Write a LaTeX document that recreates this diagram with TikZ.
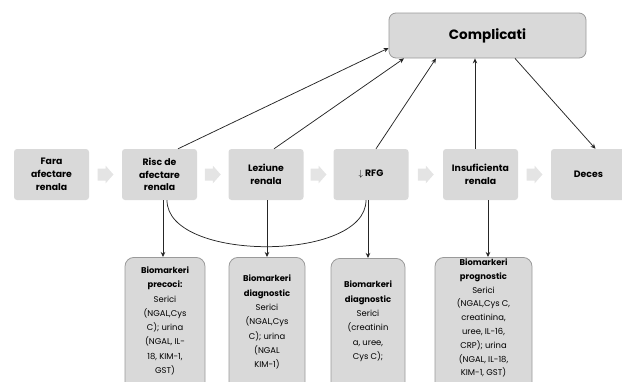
\documentclass[tikz,border=0pt]{standalone}
\usepackage{fontspec}
\setmainfont{Poppins}
\usetikzlibrary{arrows.meta,calc}
\definecolor{boxgray}{HTML}{D9D9D9}
\definecolor{edgegray}{HTML}{9A9A9A}
\definecolor{blockgray}{HTML}{E4E4E4}
\begin{document}
\begin{tikzpicture}[x=1pt,y=-1pt,
  stage/.style={fill=boxgray, rounded corners=3pt, minimum width=75pt, minimum height=51pt,
    align=center, inner sep=1pt, font=\fontsize{9.3}{12.8}\selectfont\bfseries},
  topbox/.style={fill=boxgray, draw=edgegray, line width=0.8pt, rounded corners=7pt,
    minimum width=197pt, minimum height=45pt, font=\fontsize{13.5}{15}\selectfont\bfseries},
  biobox/.style={fill=boxgray, draw=edgegray, line width=0.8pt, rounded corners=9pt, anchor=north,
    minimum height=150pt, inner sep=0pt},
  biotext/.style={anchor=north, align=center, inner sep=0pt, font=\fontsize{8.4}{14.3}\selectfont},
  conn/.style={draw=black!85, line width=0.75pt, -{Stealth[length=5pt,width=4.5pt]}},
  plain/.style={draw=black!85, line width=0.75pt}
]
\useasboundingbox (0,0) rectangle (622,381);
\clip (0,0) rectangle (622,381);

% stage boxes
\node[stage] (f1) at (51.5,174.5) {Fara\\afectare\\renala};
\node[stage] (f2) at (159.5,174.5) {Risc de\\afectare\\renala};
\node[stage] (f3) at (266,174.5) {Leziune\\renala};
\node[stage] (f4) at (371,174.5) {$\downarrow$ RFG};
\node[stage] (f5) at (480.5,174.5) {Insuficienta\\renala};
\node[stage] (f6) at (588.5,174.5) {Deces};

% complicati
\node[topbox] (cp) at (487.5,35.5) {Complicati};

% block arrows between stages
\foreach \a/\b/\g in {f1/f2/g1, f2/f3/g2, f3/f4/g3, f4/f5/g4, f5/f6/g5}{
  \coordinate (\g) at ($(\a.east)!0.5!(\b.west)$);
  \fill[blockgray] (\g) ++(-8,-6) -- ++(8,0) -- ++(0,-3) -- ++(8,9) -- ++(-8,9) -- ++(0,-3) -- ++(-8,0) -- cycle;
}

% biomarker boxes
\node[biobox, minimum width=80pt] (b1) at (165,257) {};
\node[biobox, minimum width=76pt] (b2) at (267,257) {};
\node[biobox, minimum width=74pt] (b3) at (368,258) {};
\node[biobox, minimum width=97pt] (b4) at (483.5,257) {};

\node[biotext] (t1) at (165,266.5) {\textbf{Biomarkeri}\\\textbf{precoci:}\\Serici\\(NGAL,Cys\\C); urina\\(NGAL, IL-\\18, KIM-1,\\GST)};
\node[biotext] (t2) at (267,275) {\textbf{Biomarkeri}\\\textbf{diagnostic}\\Serici\\(NGAL,Cys\\C); urina\\(NGAL\\KIM-1)};
\node[biotext] (t3) at (368,281) {\textbf{Biomarkeri}\\\textbf{diagnostic}\\Serici\\(creatinin\\a, uree,\\Cys C);};
\node[biotext, font=\fontsize{8.4}{13.8}\selectfont] (t4) at (483.5,258.5) {\textbf{Biomarkeri}\\\textbf{prognostic}\\Serici\\(NGAL,Cys C,\\creatinina,\\uree, IL-16,\\CRP); urina\\(NGAL, IL-18,\\KIM-1, GST)};

% arrows up to complicati
\draw[conn] ([xshift=18.5]f2.north) -- ([yshift=-12.5]cp.west);
\draw[conn] ([xshift=8]f3.north) -- ([xshift=-83.5]cp.south);
\draw[conn] ([xshift=5]f4.north) -- ([xshift=-51.5]cp.south);
\draw[conn] ([xshift=-5.5]f5.north) -- ([xshift=-12.5]cp.south);
\draw[conn] ([xshift=27.5]cp.south) -- ([xshift=7]f6.north);

% arrows down to biomarkers
\draw[conn] ([xshift=3.5]f2.south) -- ([xshift=3.5]f2.south |- b1.north);
\draw[conn] ([xshift=1]f3.south) -- ([xshift=1]f3.south |- b2.north);
\draw[conn] ([xshift=-3]f4.south) -- ([xshift=-3]f4.south |- b3.north);
\draw[conn] ([xshift=7.5]f5.south) -- ([xshift=7.5]f5.south |- b4.north);

% curve
\draw[plain] ([xshift=7.5]f2.south) .. controls +(0,62) and +(0,62) .. ([xshift=-5]f4.south);
\end{tikzpicture}
\end{document}
